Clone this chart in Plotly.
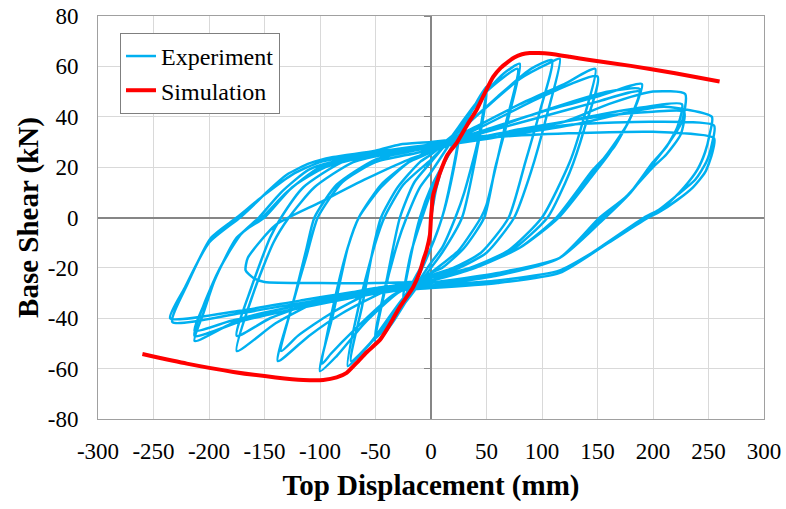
import plotly.graph_objects as go

# ---------------- Simulation (backbone) ----------------
sim_x = [-260, -220, -178, -140, -115, -97, -85, -76, -67, -58, -46, -40, -28, -16, -10, -7, -4, -1, 0, 2, 4, 8, 15, 23, 33, 41, 48, 56, 63, 68, 75, 82, 89, 97, 107, 125, 143, 180, 220, 260]
sim_y = [-54.2, -58.0, -61.3, -63.5, -64.5, -64.5, -63.5, -61.7, -57.7, -53.5, -48.6, -44.6, -35.5, -27.6, -21.5, -17.0, -13.0, -7.0, 0, 9, 12, 17.6, 25, 29.5, 37, 42.7, 49, 55.8, 59.5, 61.3, 63.5, 64.8, 65.3, 65.3, 65.0, 63.8, 62.5, 60.2, 57.3, 54.0]

# ---------------- Experiment (hysteresis cycles) ----------------
cyc25_x = [0, 5, 12, 25, 18, 10, 0, -10, -25, -18, -10, 0, 12, 25, 18, 10, 0, -12, -25]
cyc25_y = [0, 12, 22, 33, 15, 0, -12, -22, -33, -15, 0, 12, 22, 32, 14, 0, -12, -22, -32]

cyc50_x = [-18, -8, 0, 10, 25, 40, 50, 42, 30, 22, 10, 0, -15, -35, -50,
           -42, -30, -22, -10, 0, 15, 35, 50, 42, 28, 10, 0, -20, -50]
cyc50_y = [-14, 0, 10, 20, 32, 45, 52, 30, 10, 0, -12, -18, -28, -42, -50,
           -30, -10, 0, 12, 18, 28, 42, 50, 28, 0, -14, -20, -32, -48]

cyc75_x = [-40, -28, -15, 0, 15, 40, 65, 80, 70, 58, 48, 30, 10, 0, -20, -45, -65, -75,
           -65, -50, -42, -25, 0, 20, 50, 78, 66, 50, 45, 25, 0, -25, -55, -72]
cyc75_y = [-25, 0, 14, 22, 30, 45, 57, 61, 40, 20, 0, -12, -20, -22, -30, -45, -55, -59,
           -35, -10, 0, 13, 23, 32, 50, 59, 35, 5, 0, -13, -22, -32, -50, -57]

cyc100_x = [-62, -52, -45, -30, -10, 0, 30, 60, 90, 109, 98, 85, 70, 45, 20, 0, -30, -60, -85, -100,
            -88, -75, -65, -45, -20, 0, 40, 80, 105, 116, 104, 90, 75, 50, 20, 0, -35, -70, -90, -98]
cyc100_y = [-35, -12, 0, 12, 22, 25, 36, 48, 59, 62.5, 42, 22, 0, -14, -20, -23, -30, -42, -55, -61,
            -38, -12, 0, 12, 22, 26, 40, 55, 61, 63, 40, 18, 0, -14, -21, -23, -31, -45, -54, -58]

cyc150_x = [-88, -75, -65, -45, -20, 0, 40, 80, 120, 148, 138, 125, 100, 70, 35, 0, -40, -80, -110, -138,
            -125, -112, -102, -80, -50, 0, 50, 100, 150, 138, 125, 105, 70, 30, 0, -50, -90, -120, -135]
cyc150_y = [-35, -12, 0, 13, 22, 27, 36, 45, 53, 59, 40, 22, 0, -13, -20, -24, -29, -38, -47, -57,
            -35, -15, 0, 14, 22, 27, 37, 48, 56, 35, 18, 0, -14, -21, -24, -29, -38, -47, -53]

cyc190_x = [-122, -112, -105, -85, -50, 0, 50, 100, 150, 190, 180, 165, 146, 113, 80, 40, 0, -50, -100, -150, -160, -167,
            -165, -140, -100, -60, -20, 0, 60, 120, 160, 188, 178, 160, 146, 115, 80, 40, 0, -50, -100, -140, -175,
            -160, -142, -128, -105, -70, -30, 0, 50, 100, 150, 188, 178, 160, 146, 115, 80, 40, 0, -50, -100, -145, -175]
cyc190_y = [-30, -12, 0, 13, 23, 28, 35, 42, 48, 53, 40, 28, 19, 0, -12, -20, -25, -26, -26, -25.6, -24, -21,
            -16, -3, 6, 15, 23, 26, 36, 45, 50, 51, 38, 26, 18, 0, -12, -20, -25, -28, -33, -42, -53,
            -30, -10, 0, 12, 22, 26, 28, 34, 40, 46, 50, 38, 25, 17, 0, -12, -20, -25, -28, -33, -40, -47]

cyc225_x = [-162, -145, -135, -115, -80, -40, 0, 60, 120, 160, 200, 229, 226, 215, 203, 180, 157, 116, 60, 0, -60, -120, -170, -213,
            -205, -195, -175, -152, -130, -100, -60, 0, 60, 120, 180, 226, 222, 212, 200, 178, 155, 116, 60, 0, -60, -120, -170, -213,
            -205, -190, -170, -150, -125, -95, -50, 0, 80, 150, 200, 228, 225, 212, 200, 175, 152, 116, 60, 0, -60, -130, -180, -213]
cyc225_y = [-28, -8, 0, 12, 22, 26, 28, 33, 38, 45, 50, 49, 38, 30, 23, 10, 0, -16, -22, -26, -30, -35, -40, -49,
            -38, -25, -8, 0, 10, 20, 24, 28, 32, 38, 43, 45, 36, 28, 22, 9, 0, -16, -23, -26, -30, -36, -41, -47,
            -35, -20, -6, 0, 12, 20, 25, 28, 35, 40, 42, 42, 33, 25, 20, 8, 0, -16, -23, -27, -31, -37, -41, -45]

cyc250_x = [-205, -190, -172, -155, -135, -110, -80, -40, 0, 60, 130, 180, 210, 253, 251, 247, 240, 228, 212, 195, 160, 116, 60, 0, -60, -118, -172, -235,
            -222, -200, -172, -155, -147, -130, -109, -88, -50, -28, 0, 60, 130, 200, 255, 253, 248, 238, 222, 205, 192, 155, 116, 60, 0, -60, -118, -172, -233,
            -220, -198, -175, -150, -125, -100, -50, 0, 60, 134, 200, 255, 253, 247, 236, 222, 205, 196, 160, 116, 60, 0]
cyc250_y = [-35, -20, -7, 0, 10, 19, 23, 26, 28, 32, 37, 42, 44, 40, 33, 26, 19, 12, 5, 0, -10, -21, -25, -27, -29, -33, -37, -40,
            -28, -10, 0, 7, 10.5, 17, 21.6, 24, 26.5, 29, 30, 33, 37, 38, 36.5, 29, 22, 15, 9, 3, 0, -11, -22, -26, -28, -30, -34, -38, -41.5,
            -27, -8, 0, 9, 17, 22, 26, 29, 32, 33.5, 34, 31.5, 25, 18, 12, 7, 2, 0, -10, -22, -26, -28]

exp_x = cyc25_x + cyc50_x + cyc75_x + cyc100_x + cyc150_x + cyc190_x + cyc225_x + cyc250_x
exp_y = cyc25_y + cyc50_y + cyc75_y + cyc100_y + cyc150_y + cyc190_y + cyc225_y + cyc250_y

x_ticks = [-300, -250, -200, -150, -100, -50, 0, 50, 100, 150, 200, 250, 300]
y_ticks = [-80, -60, -40, -20, 0, 20, 40, 60, 80]

BLUE = "#00b0f0"
RED = "#ff0000"
FONT = "Liberation Serif"

fig = go.Figure()
fig.add_trace(go.Scatter(x=exp_x, y=exp_y, mode="lines", name="Experiment",
                         line=dict(color=BLUE, width=2.5, shape="spline", smoothing=0.6),
                         legendgroup="a"))
fig.add_trace(go.Scatter(x=sim_x, y=sim_y, mode="lines", name="Simulation",
                         line=dict(color=RED, width=4, shape="spline", smoothing=0.5),
                         legendgroup="b", yaxis="y2"))

fig.update_layout(
    width=786, height=509,
    margin=dict(l=98, r=22, t=16, b=90),
    plot_bgcolor="white", paper_bgcolor="white",
    font=dict(family=FONT, color="black", size=23),
    showlegend=True,
    legend=dict(x=0.033, y=0.958, xanchor="left", yanchor="top",
                bordercolor="#7f7f7f", borderwidth=1, bgcolor="white",
                font=dict(family=FONT, size=24), tracegroupgap=0,
                traceorder="grouped"),
    xaxis=dict(range=[-300, 300], tickvals=x_ticks, ticktext=[str(v) for v in x_ticks],
               showgrid=True, gridcolor="#d9d9d9", gridwidth=1, automargin=False,
               showline=True, mirror=True, linecolor="#a0a0a0", linewidth=1,
               zeroline=True, zerolinecolor="#868686", zerolinewidth=1.5,
               ticks="", ticklabelstandoff=11,
               tickfont=dict(family=FONT, size=23),
               title=dict(text="<b>Top Displacement (mm)</b>", font=dict(family=FONT, size=29), standoff=12)),
    yaxis=dict(range=[-80, 80], tickvals=y_ticks, ticktext=[str(v) for v in y_ticks],
               showgrid=True, gridcolor="#d9d9d9", gridwidth=1, automargin=False,
               showline=True, mirror=True, linecolor="#a0a0a0", linewidth=1,
               zeroline=True, zerolinecolor="#868686", zerolinewidth=1.5,
               ticks="", ticklabelstandoff=14,
               tickfont=dict(family=FONT, size=23),
               title=dict(text="<b>Base Shear (kN)</b>", font=dict(family=FONT, size=29), standoff=0)),
    yaxis2=dict(range=[-80, 80], tickvals=y_ticks, overlaying="y", anchor="free", position=0.5,
                side="left", showticklabels=False, showgrid=False, zeroline=False, automargin=False,
                ticks="outside", ticklen=6, tickcolor="#868686", tickwidth=1,
                showline=True, linecolor="#868686", linewidth=1.5, layer="below traces"),
)

fig.write_html("out.html")
